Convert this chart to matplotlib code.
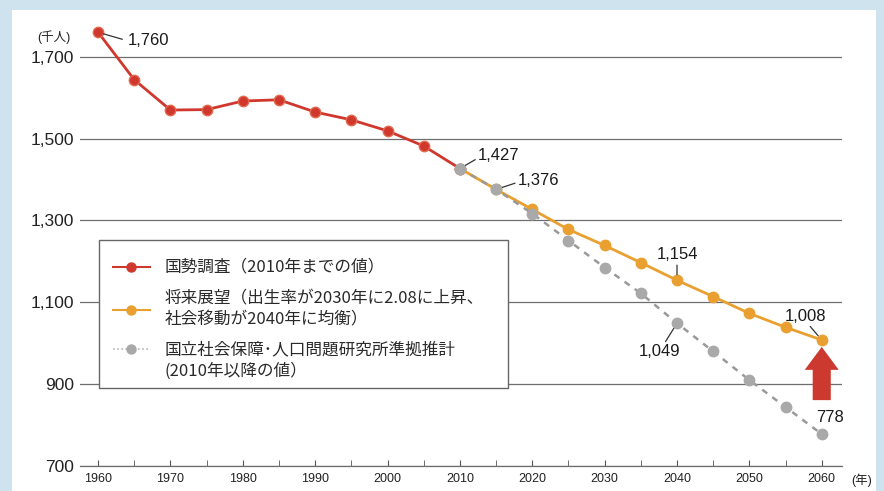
import matplotlib
matplotlib.use("Agg")
import matplotlib.pyplot as plt
from matplotlib.lines import Line2D
from matplotlib.patches import FancyArrow, Rectangle

plt.rcParams['font.family'] = ['Liberation Sans', 'Noto Sans CJK JP', 'DejaVu Sans']

# ---- data ----
census_years = [1960, 1965, 1970, 1975, 1980, 1985, 1990, 1995, 2000, 2005, 2010]
census_vals = [1760, 1644, 1570, 1571, 1592, 1595, 1565, 1546, 1519, 1482, 1427]

vision_years = [2010, 2015, 2020, 2025, 2030, 2035, 2040, 2045, 2050, 2055, 2060]
vision_vals = [1427, 1376, 1327, 1278, 1239, 1197, 1154, 1114, 1073, 1039, 1008]

ipss_years = [2010, 2015, 2020, 2025, 2030, 2035, 2040, 2045, 2050, 2055, 2060]
ipss_vals = [1427, 1376, 1317, 1251, 1185, 1122, 1049, 980, 910, 844, 778]

y_ticks = [700, 900, 1100, 1300, 1500, 1700]
x_ticks = [1960, 1970, 1980, 1990, 2000, 2010, 2020, 2030, 2040, 2050, 2060]

legend_labels = [
    ["国勢調査（2010年までの値）"],
    ["将来展望（出生率が2030年に2.08に上昇、", "社会移動が2040年に均衡）"],
    ["国立社会保障･人口問題研究所準拠推計", "(2010年以降の値）"],
]

RED = '#d0382e'
ORANGE = '#e9a030'
GRAY = '#a9a9a9'

W, H = 884, 491
fig = plt.figure(figsize=(8.84, 4.91), dpi=100, facecolor='#cfe3ee')
panel = Rectangle((12 / W, 0), (876 - 12) / W, (H - 10) / H,
                  transform=fig.transFigure, facecolor='white', edgecolor='none', zorder=-10)
fig.add_artist(panel)

AX_L, AX_R, AX_B, AX_T = 80, 842, 466, 20
ax = fig.add_axes([AX_L / W, (H - AX_B) / H, (AX_R - AX_L) / W, (AX_B - AX_T) / H])
ax.set_zorder(1)
ax.set_facecolor('none')
ax.set_xlim(1957.5, 2062.8)
ax.set_ylim(700, 1790)


def ax_frac(px, py):
    return (px - AX_L) / (AX_R - AX_L), (AX_B - py) / (AX_B - AX_T)


for v in y_ticks:
    ax.axhline(v, color='#6e6e6e', lw=0.9, zorder=1)

ax.plot(vision_years, vision_vals, color=ORANGE, lw=2, marker='o', ms=7.5,
        mfc=ORANGE, mec=ORANGE, zorder=3)
ax.plot(ipss_years, ipss_vals, color='#999999', lw=1.8, ls=(0, (2.5, 2.5)),
        marker='o', ms=7.5, mfc=GRAY, mec=GRAY, zorder=4)
ax.plot(census_years, census_vals, color=RED, lw=2, marker='o', ms=7.5,
        mfc=RED, mec='#e06a50', zorder=3)
ax.plot(ipss_years[:1], ipss_vals[:1], marker='o', ms=7.5, mfc=GRAY, mec=GRAY, zorder=5, ls='none')

ax.set_yticks(y_ticks)
ax.set_yticklabels([f"{v:,}" for v in y_ticks], fontsize=12.5, color='#222222')
ax.tick_params(axis='y', length=0, pad=4)
ax.set_xticks(x_ticks)
ax.set_xticklabels([str(v) for v in x_ticks], fontsize=9, color='#222222')
ax.set_xticks(list(range(1965, 2060, 10)), minor=True)
ax.tick_params(axis='x', which='both', direction='in', length=4, color='#555555', pad=5)
for s in ['top', 'right', 'left']:
    ax.spines[s].set_visible(False)
ax.spines['bottom'].set_color('#6e6e6e')
ax.spines['bottom'].set_linewidth(0.9)

ann = dict(fontsize=12, color='#1a1a1a', va='center')
lp = dict(arrowstyle='-', color='#333333', lw=0.9, shrinkA=0, shrinkB=4)

ax.annotate(f"{census_vals[0]:,}", xy=(census_years[0], census_vals[0]), xytext=(1964.1, 1739),
            ha='left', arrowprops=dict(lp, shrinkA=2, relpos=(0, 0.5)), **ann)
ax.annotate(f"{ipss_vals[0]:,}", xy=(ipss_years[0], ipss_vals[0]), xytext=(2012.5, 1460),
            ha='left', arrowprops=dict(lp, relpos=(0, 0.3)), **ann)
ax.annotate(f"{ipss_vals[1]:,}", xy=(ipss_years[1], ipss_vals[1]), xytext=(2018.0, 1397),
            ha='left', arrowprops=dict(lp, relpos=(0, 0.4)), **ann)
ax.annotate(f"{vision_vals[6]:,}", xy=(vision_years[6], vision_vals[6]), xytext=(2040, 1216),
            ha='center', arrowprops=dict(lp, relpos=(0.5, 0)), **ann)
ax.annotate(f"{vision_vals[-1]:,}", xy=(vision_years[-1], vision_vals[-1]), xytext=(2057.8, 1066),
            ha='center', arrowprops=dict(lp, relpos=(0.55, 0)), **ann)
ax.annotate(f"{ipss_vals[6]:,}", xy=(ipss_years[6], ipss_vals[6]), xytext=(2037.6, 979),
            ha='center', arrowprops=dict(lp, relpos=(0.6, 1)), **ann)
ax.annotate(f"{ipss_vals[-1]:,}", xy=(ipss_years[-1], ipss_vals[-1]), xytext=(2061.1, 819),
            ha='center', **ann)

ax.add_patch(FancyArrow(2060, 861, 0, 130, width=2.5, head_width=4.7, head_length=56,
                        length_includes_head=True, facecolor='#cc3a2f', edgecolor='none', zorder=6))

# ---- manual legend ----
bx0, by0 = ax_frac(99, 388)
bx1, by1 = ax_frac(508, 240)
ax.add_patch(Rectangle((bx0, by0), bx1 - bx0, by1 - by0, transform=ax.transAxes,
                       facecolor='white', edgecolor='#666666', lw=1.0, zorder=7))
handle_styles = [
    dict(color=RED, lw=1.5, ls='-', mfc=RED, mec=RED),
    dict(color=ORANGE, lw=1.5, ls='-', mfc=ORANGE, mec=ORANGE),
    dict(color='#b5b5b5', lw=1.2, ls=(0, (1, 1.5)), mfc=GRAY, mec=GRAY),
]
handle_y = [267, 309.5, 349]
text_rows = [[267], [299, 320], [350, 371]]
for st, hy, rows, lines in zip(handle_styles, handle_y, text_rows, legend_labels):
    xa, ya = ax_frac(113, hy)
    xb, _ = ax_frac(150, hy)
    xm, _ = ax_frac(131, hy)
    ax.add_line(Line2D([xa, xb], [ya, ya], transform=ax.transAxes, color=st['color'],
                       lw=st['lw'], ls=st['ls'], zorder=8))
    ax.add_line(Line2D([xm], [ya], transform=ax.transAxes, marker='o', ms=6.5,
                       mfc=st['mfc'], mec=st['mec'], ls='none', zorder=9))
    for ry, line in zip(rows, lines):
        tx, ty = ax_frac(165, ry)
        ax.text(tx, ty, line, transform=ax.transAxes, ha='left', va='center',
                fontsize=12, family=['Noto Sans CJK JP'], color='#2a2a2a', zorder=9)

fig.text(54 / W, (H - 37) / H, "(千人)", fontsize=9, ha='center', va='center', color='#222222')
fig.text(862 / W, (H - 480) / H, "(年)", fontsize=9, ha='center', va='center', color='#222222')

fig.savefig("out.png", dpi=100, facecolor=fig.get_facecolor())
